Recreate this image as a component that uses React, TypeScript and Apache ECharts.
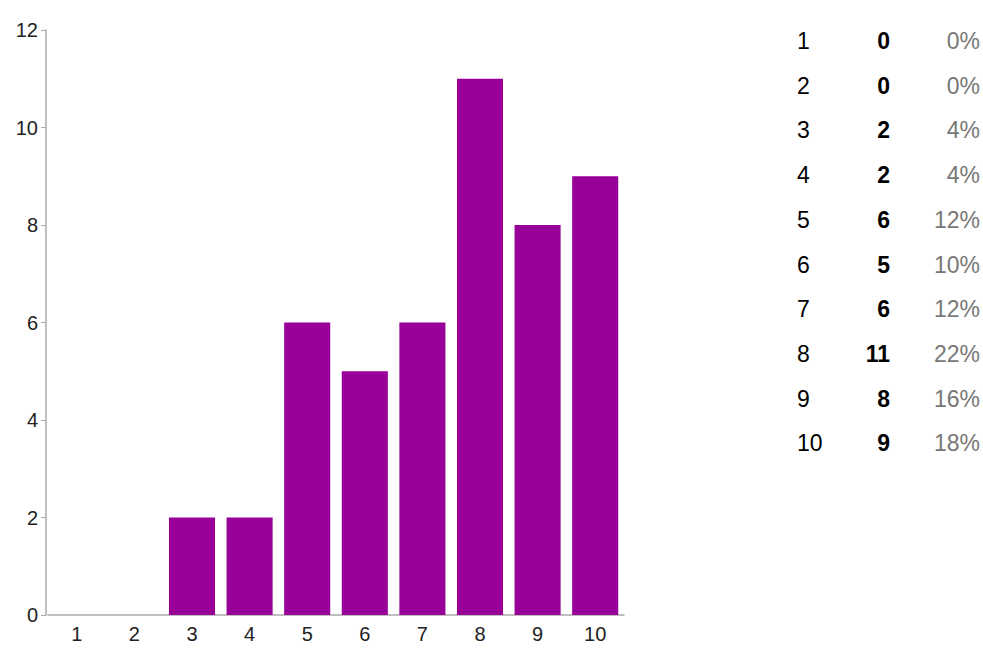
import React, { useEffect, useRef } from "react";
import * as echarts from "echarts";

const categories = ["1", "2", "3", "4", "5", "6", "7", "8", "9", "10"];
const counts = [0, 0, 2, 2, 6, 5, 6, 11, 8, 9];
const percents = ["0%", "0%", "4%", "4%", "12%", "10%", "12%", "22%", "16%", "18%"];
const yTicks = [0, 2, 4, 6, 8, 10, 12];

const FONT = "Liberation Sans, Arial, sans-serif";

export default function App() {
  const ref = useRef<HTMLDivElement>(null);
  useEffect(() => {
    if (!ref.current) return;
    const chart = echarts.init(ref.current, undefined, { renderer: "svg" });
    const rowTop = 41;
    const rowGap = 44.7;
    const tableTexts: any[] = [];
    categories.forEach((c, i) => {
      const y = rowTop + i * rowGap;
      tableTexts.push({
        type: "text",
        x: 797,
        y: y,
        style: { text: c, fontSize: 23, fontFamily: FONT, fill: "#000", align: "left", verticalAlign: "middle" },
      });
      tableTexts.push({
        type: "text",
        x: 890,
        y: y,
        style: {
          text: String(counts[i]),
          fontSize: 23,
          fontWeight: "bold",
          fontFamily: FONT,
          fill: "#000",
          align: "right",
          verticalAlign: "middle",
        },
      });
      tableTexts.push({
        type: "text",
        x: 980,
        y: y,
        style: {
          text: percents[i],
          fontSize: 23,
          fontFamily: FONT,
          fill: "#777",
          align: "right",
          verticalAlign: "middle",
        },
      });
    });
    chart.setOption({
      animation: false,
      grid: { left: 48, top: 30, width: 576, height: 585 },
      xAxis: {
        type: "category",
        data: categories,
        axisLine: { lineStyle: { color: "#aaa", width: 1.5 } },
        axisTick: { alignWithLabel: true, length: 5, lineStyle: { color: "#aaa" } },
        axisLabel: { fontSize: 20, color: "#222", fontFamily: FONT, margin: 9 },
      },
      yAxis: {
        type: "value",
        min: yTicks[0],
        max: yTicks[yTicks.length - 1],
        interval: 2,
        offset: 2,
        splitLine: { show: false },
        axisLine: { show: true, lineStyle: { color: "#aaa", width: 1.5 } },
        axisTick: { show: true, length: 5, lineStyle: { color: "#aaa" } },
        axisLabel: { fontSize: 20, color: "#222", fontFamily: FONT, margin: 8 },
      },
      series: [
        {
          type: "bar",
          data: counts,
          barCategoryGap: "20%",
          itemStyle: { color: "#990099" },
        },
      ],
      graphic: tableTexts,
    });
    return () => chart.dispose();
  }, []);
  return (
    <div
      ref={ref}
      style={{ position: "fixed", left: 0, top: 0, width: 983, height: 653, background: "#fff" }}
    />
  );
}
